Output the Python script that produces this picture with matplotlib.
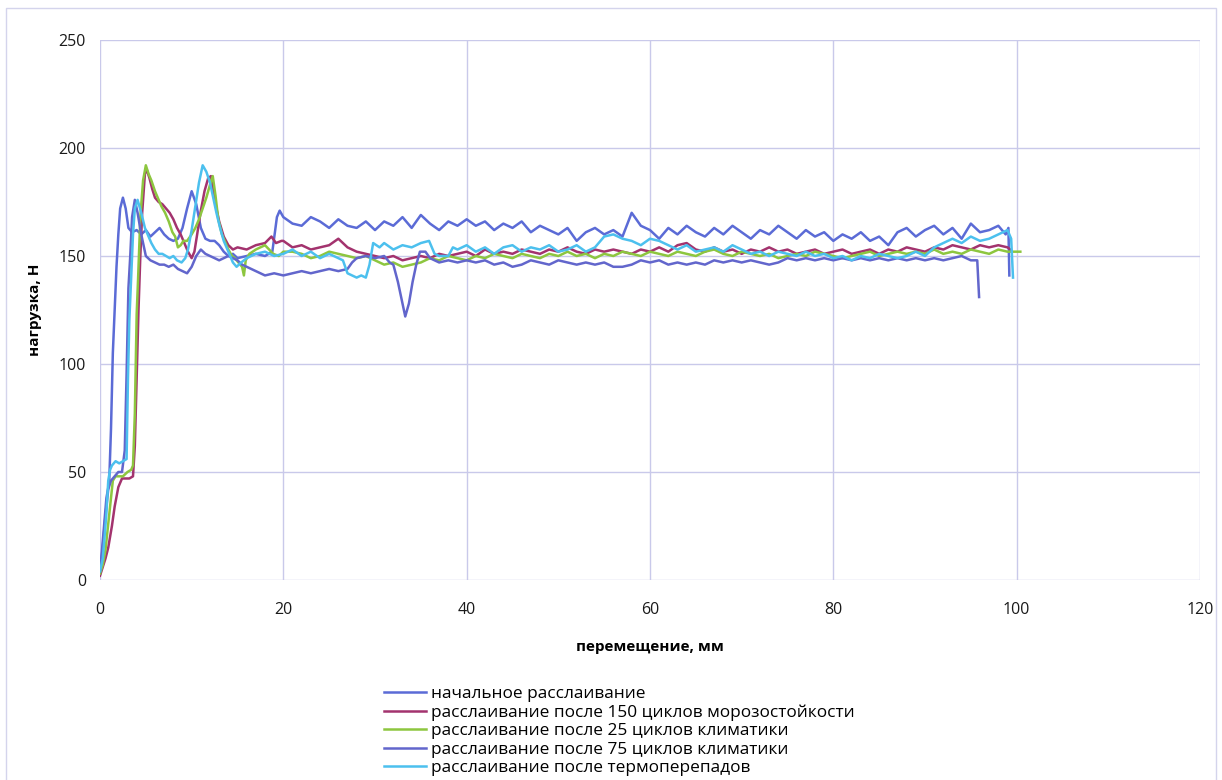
import matplotlib
matplotlib.use('Agg')
import matplotlib.pyplot as plt
from matplotlib.patches import Rectangle

plt.rcParams['font.family'] = ['Open Sans', 'DejaVu Sans']

# ---- data (displacement, mm / load, N) ----
x_init = [0, 0.3, 0.7, 1.0, 1.2, 1.4, 1.6, 1.8, 2.0, 2.2, 2.5, 2.8, 3.1, 3.5, 4.0, 4.5,
          5.0, 5.5, 6.0, 6.5, 7.0, 7.5, 8.0, 8.5, 9.0, 9.5, 10.0, 10.5, 11.0, 11.5,
          12.0, 12.5, 13.0, 13.5, 14.0, 14.5, 15, 16, 17, 18, 18.8, 19.3, 19.6,
          20, 21, 22, 23, 24, 25, 26, 27, 28, 29, 30, 31, 32, 33, 34, 35, 36, 37,
          38, 39, 40, 41, 42, 43, 44, 45, 46, 47, 48, 49, 50, 51, 52, 53, 54, 55,
          56, 57, 58, 59, 60, 61, 62, 63, 64, 65, 66, 67, 68, 69, 70, 71, 72, 73,
          74, 75, 76, 77, 78, 79, 80, 81, 82, 83, 84, 85, 86, 87, 88, 89, 90, 91,
          92, 93, 94, 95, 96, 97, 98, 98.8, 99.1, 99.2]
y_init = [3, 18, 38, 45, 70, 105, 125, 145, 160, 172, 177, 172, 163, 161, 162, 160,
          162, 159, 161, 163, 160, 158, 157, 158, 163, 172, 180, 174, 163, 158,
          157, 157, 155, 152, 150, 151, 149, 150, 151, 150, 152, 168, 171,
          168, 165, 164, 168, 166, 163, 167, 164, 163, 166, 162, 166, 164, 168, 163,
          169, 165, 162, 166, 164, 167, 164, 166, 162, 165, 163, 166, 161, 164, 162,
          160, 163, 157, 161, 163, 160, 162, 159, 170, 164, 162, 158, 163, 160, 164,
          161, 159, 163, 160, 164, 161, 158, 162, 160, 164, 161, 158, 162, 159, 161,
          157, 160, 158, 161, 157, 159, 155, 161, 163, 159, 162, 164, 160, 163, 158,
          165, 161, 162, 164, 160, 163, 141]

x_frost150 = [0, 0.3, 0.6, 0.9, 1.3, 1.6, 2.0, 2.4, 2.8, 3.2, 3.6, 3.8, 4.0, 4.2, 4.4,
              4.6, 4.9, 5.1, 5.4, 5.7, 6.0, 6.4, 6.8, 7.2, 7.6, 8.0, 8.4, 8.8, 9.2,
              9.6, 10.0, 10.3, 10.6, 11.0, 11.4, 11.8, 12.1, 12.5, 13.0, 13.5, 14.0,
              14.5, 15, 16, 17, 18, 18.7, 19.2, 19.8,
              20, 21, 22, 23, 24, 25, 26, 27, 28, 29, 30, 31, 32, 33, 34, 35, 36, 37,
              38, 39, 40, 41, 42, 43, 44, 45, 46, 47, 48, 49, 50, 51, 52, 53, 54, 55,
              56, 57, 58, 59, 60, 61, 62, 63, 64, 65, 66, 67, 68, 69, 70, 71, 72, 73,
              74, 75, 76, 77, 78, 79, 80, 81, 82, 83, 84, 85, 86, 87, 88, 89, 90, 91,
              92, 93, 94, 95, 96, 97, 98, 99, 99.3]
y_frost150 = [2, 6, 10, 15, 25, 34, 43, 47, 47, 47, 48, 62, 93, 125, 150,
              170, 188, 190, 186, 181, 177, 175, 174, 172, 170, 167, 163, 160, 156,
              152, 149, 152, 160, 171, 180, 186, 187, 176, 166, 159, 155,
              153, 154, 153, 155, 156, 159, 156, 157,
              157, 154, 155, 153, 154, 155, 158, 154, 152, 151, 150, 149, 150, 148,
              149, 150, 149, 151, 150, 151, 152, 150, 153, 151, 152, 151, 153, 152,
              151, 153, 152, 154, 152, 151, 153, 152, 153, 152, 151, 153, 152, 154,
              152, 155, 156, 153, 152, 154, 152, 153, 151, 153, 152, 154, 152, 153,
              151, 152, 153, 151, 152, 153, 151, 152, 153, 151, 153, 152, 154, 153,
              152, 154, 153, 155, 154, 153, 155, 154, 155, 154, 153]

x_clim25 = [0, 0.3, 0.6, 0.9, 1.2, 1.4, 1.7, 2.0, 2.5, 3.0, 3.4, 3.6, 3.8, 4.0, 4.15,
            4.4, 4.7, 5.0, 5.3, 5.6, 6.0, 6.3, 6.7, 7.1, 7.5, 7.9, 8.2, 8.5, 8.8, 9.1,
            9.5, 10.0, 10.4, 10.8, 11.2, 11.6, 12.0, 12.3, 12.6, 12.9, 13.3, 13.6,
            14.0, 14.4, 14.7, 15.1, 15.5, 15.7, 15.9, 16.3, 17.0, 17.5, 18, 18.9, 19.5,
            20, 21, 22, 23, 24, 25, 26, 27, 28, 29, 30, 31, 32, 33, 34, 35, 36, 37,
            38, 39, 40, 41, 42, 43, 44, 45, 46, 47, 48, 49, 50, 51, 52, 53, 54, 55,
            56, 57, 58, 59, 60, 61, 62, 63, 64, 65, 66, 67, 68, 69, 70, 71, 72, 73,
            74, 75, 76, 77, 78, 79, 80, 81, 82, 83, 84, 85, 86, 87, 88, 89, 90, 91,
            92, 93, 94, 95, 96, 97, 98, 99, 100, 100.4]
y_clim25 = [3, 7, 14, 26, 38, 46, 48, 48, 48, 50, 51, 53, 77, 123, 139,
            168, 185, 192, 188, 185, 180, 177, 173, 170, 166, 161, 159, 154, 155, 157,
            157, 160, 163, 167, 172, 177, 183, 187, 178, 167, 160, 157,
            153, 150, 149, 147, 145, 141, 148, 151, 153, 154, 155, 151, 150,
            152, 152, 151, 149, 150, 152, 151, 150, 149, 150, 148, 146, 147, 145,
            146, 147, 149, 148, 150, 149, 148, 150, 149, 151, 150, 149, 151, 150,
            149, 151, 150, 152, 150, 151, 149, 151, 150, 152, 151, 150, 152, 151,
            150, 152, 151, 150, 152, 153, 151, 150, 152, 151, 150, 151, 149, 150,
            151, 150, 152, 151, 150, 149, 150, 151, 152, 150, 151, 152, 151, 152,
            151, 153, 151, 152, 151, 153, 152, 151, 153, 152, 152, 152]

x_clim75 = [0, 0.3, 0.6, 0.9, 1.2, 1.6, 2.0, 2.4, 2.7, 2.9, 3.1, 3.3, 3.5, 3.8, 4.1,
            4.5, 5.0, 5.5, 6.0, 6.5, 7.0, 7.5, 8.0, 8.5, 9.0, 9.5, 10.0, 10.5, 11.0,
            11.5, 12.0, 12.5, 13.0, 13.5, 14.0, 14.5, 15, 15.5, 16, 17, 18, 19, 20,
            21, 22, 23, 24, 25, 26, 27, 27.5, 28, 29, 30, 31, 31.6, 32, 32.5, 33, 33.3,
            33.7, 34.1, 34.5, 34.9, 35.5, 36, 37, 38, 39, 40, 41, 42, 43, 44, 45, 46,
            47, 48, 49, 50, 51, 52, 53, 54, 55, 56, 57, 58, 59, 60, 61, 62, 63, 64,
            65, 66, 67, 68, 69, 70, 71, 72, 73, 74, 75, 76, 77, 78, 79, 80, 81, 82,
            83, 84, 85, 86, 87, 88, 89, 90, 91, 92, 93, 94, 95, 95.7, 95.9]
y_clim75 = [4, 15, 30, 42, 46, 48, 50, 50, 60, 95, 135, 150, 168, 176, 170,
            160, 150, 148, 147, 146, 146, 145, 146, 144, 143, 142, 145, 150, 153,
            151, 150, 149, 148, 149, 150, 149, 148, 146, 145, 143, 141, 142, 141,
            142, 143, 142, 143, 144, 143, 144, 147, 149, 150, 149, 150, 147, 146,
            138, 128, 122, 128, 138, 146, 152, 152, 149, 147, 148, 147, 148, 147,
            148, 146, 147, 145, 146, 148, 147, 146, 148, 147, 146, 147, 146, 147,
            145, 145, 146, 148, 147, 148, 146, 147, 146, 147, 146, 148, 147, 148,
            147, 148, 147, 146, 147, 149, 148, 149, 148, 149, 148, 149, 148, 149,
            148, 149, 148, 149, 148, 149, 148, 149, 148, 149, 150, 148, 148, 131]

x_thermo = [0, 0.3, 0.5, 0.7, 0.9, 1.1, 1.3, 1.7, 2.1, 2.5, 2.9, 3.05, 3.2, 3.4, 3.6,
            3.8, 4.1, 4.5, 4.9, 5.3, 5.6, 6.0, 6.4, 6.8, 7.2, 7.6, 8.0, 8.4, 8.9, 9.3,
            9.6, 10.0, 10.4, 10.8, 11.2, 11.6, 12.0, 12.4, 12.7, 13.1, 13.5, 13.8,
            14.2, 14.5, 14.9, 15.4, 16.0, 17, 18, 19,
            20, 21, 22, 23, 24, 25, 26, 26.5, 27, 27.5, 28, 28.5, 29, 29.4, 29.8,
            30.5, 31, 32, 33, 34, 35, 35.9, 36.5, 37, 38, 38.5, 39, 40, 41, 42, 43,
            44, 45, 46, 47, 48, 49, 50, 51, 52, 53, 54, 55, 56, 57, 58, 59, 60, 61,
            62, 63, 64, 65, 66, 67, 68, 69, 70, 71, 72, 73, 74, 75, 76, 77, 78, 79,
            80, 81, 82, 83, 84, 85, 86, 87, 88, 89, 90, 91, 92, 93, 94, 95, 96, 97,
            98, 99, 99.4, 99.6]
y_thermo = [4, 10, 20, 31, 46, 51, 53, 55, 54, 55, 56, 93, 120, 140, 160,
            172, 176, 170, 163, 159, 156, 153, 151, 151, 150, 149, 150, 148, 147, 149,
            153, 162, 173, 184, 192, 189, 184, 176, 170, 163, 157, 154,
            150, 147, 145, 147, 149, 151, 152, 150,
            151, 153, 150, 152, 149, 151, 149, 148, 142, 141, 140, 141, 140, 146, 156,
            154, 156, 153, 155, 154, 156, 157, 151, 150, 150, 154, 153, 155, 152, 154,
            151, 154, 155, 152, 154, 153, 155, 152, 153, 155, 152, 154, 159, 160, 158,
            157, 155, 158, 157, 155, 153, 155, 152, 153, 154, 152, 155, 153, 151, 152,
            150, 152, 151, 150, 152, 150, 151, 149, 150, 148, 150, 149, 151, 150, 149,
            150, 152, 150, 154, 156, 158, 156, 159, 157, 158, 160, 162, 158, 140]

series = [
    (x_init, y_init, 'начальное расслаивание', '#5b6bd6'),
    (x_frost150, y_frost150, 'расслаивание после 150 циклов морозостойкости', '#a3336e'),
    (x_clim25, y_clim25, 'расслаивание после 25 циклов климатики', '#8dc63f'),
    (x_clim75, y_clim75, 'расслаивание после 75 циклов климатики', '#6266cc'),
    (x_thermo, y_thermo, 'расслаивание после термоперепадов', '#4cc0ee'),
]

grid_col = '#c9c9ea'

fig = plt.figure(figsize=(12.22, 7.8), dpi=100)
ax = fig.add_axes([100/1222, 200/780, 1100/1222, 540/780])

for xs, ys, lab, col in series:
    ax.plot(xs, ys, color=col, lw=1.8, label=lab)

ax.set_xlim(0, 120)
ax.set_ylim(0, 250)
ax.set_xticks(range(0, 121, 20))
ax.set_yticks(range(0, 251, 50))
ax.grid(True, color=grid_col, lw=1)
ax.set_axisbelow(True)
for s in ax.spines.values():
    s.set_visible(False)
ax.tick_params(length=0, labelsize=11.5, colors='#1a1a1a')
ax.tick_params(axis='y', pad=10)
ax.tick_params(axis='x', pad=16)

ax.set_xlabel('перемещение, мм', fontsize=11, fontweight='bold', labelpad=16)
ax.set_ylabel('нагрузка, Н', fontsize=11, fontweight='bold', labelpad=12)

# light outer frame of the chart area
fig.patches.append(Rectangle((6/1222, -0.05), 1210/1222, 1.05 - 8/780,
                             transform=fig.transFigure, fill=False,
                             edgecolor='#d4d4ec', lw=1))

ax.legend(loc='upper left', bbox_to_anchor=(384/1222, 1 - 686/780),
          bbox_transform=fig.transFigure, frameon=False, fontsize=12.4,
          handlelength=2.45, handletextpad=0.3, labelspacing=0.14,
          borderpad=0, borderaxespad=0)

fig.savefig('out.png', dpi=100)
